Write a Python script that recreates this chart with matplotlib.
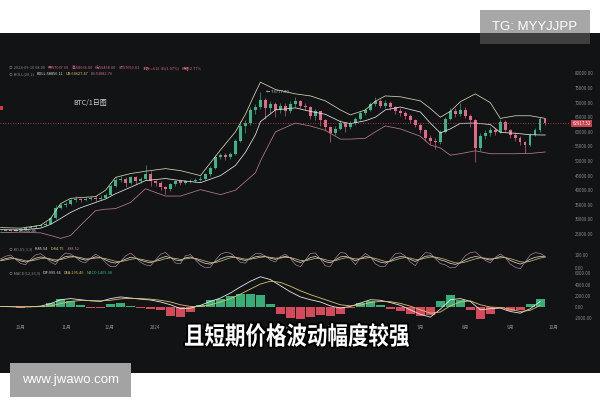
import matplotlib
matplotlib.use("Agg")
import matplotlib.pyplot as plt
import matplotlib.dates as mdates
from matplotlib.patches import Rectangle, PathPatch
from matplotlib.textpath import TextPath
from matplotlib.font_manager import FontProperties
from matplotlib.transforms import Affine2D
from matplotlib.ticker import FuncFormatter
import numpy as np
import pandas as pd

plt.rcParams['font.family'] = ['Noto Sans CJK SC', 'DejaVu Sans']

W, H = 600, 400

# ---- daily-ish candles, prices in thousand USD ----
dates = pd.date_range('2023-09-17', '2024-09-25', periods=110)
opens = [26.1, 26.2, 26.4, 26.05, 26.3, 26.8, 27.2, 27.5, 27.8, 28.0,
         28.5, 30.5, 34.0, 35.0, 35.2, 36.5, 37.0, 36.5, 37.0, 37.5,
         37.0, 37.5, 38.5, 41.5, 43.5, 44.0, 42.5, 44.5, 43.0, 44.0,
         45.5, 43.0, 42.5, 41.0, 40.5, 42.0, 43.0, 42.5, 43.0, 43.2,
         43.5, 44.0, 45.5, 47.5, 51.5, 52.0, 51.5, 52.5, 57.0, 62.0,
         63.0, 67.5, 68.5, 71.0, 68.0, 69.5, 67.5, 69.0, 67.0, 69.5,
         70.5, 69.0, 68.5, 65.5, 67.0, 64.0, 61.5, 59.5, 61.0, 63.0,
         61.5, 63.0, 64.5, 66.5, 67.5, 69.5, 70.5, 69.0, 70.0, 68.5,
         67.0, 66.5, 65.5, 64.0, 62.5, 60.5, 58.0, 57.0, 56.5, 60.0,
         64.5, 67.0, 66.0, 67.5, 65.5, 64.0, 54.5, 58.5, 59.5, 60.5,
         60.0, 63.5, 60.5, 59.0, 58.0, 56.5, 55.5, 59.0, 60.5, 64.5]
closes = [26.2, 26.4, 26.05, 26.3, 26.8, 27.2, 27.5, 27.8, 28.0, 28.5,
          30.5, 34.0, 35.0, 35.2, 36.5, 37.0, 36.5, 37.0, 37.5, 37.0,
          37.5, 38.5, 41.5, 43.5, 44.0, 42.5, 44.5, 43.0, 44.0, 45.5,
          43.0, 42.5, 41.0, 40.5, 42.0, 43.0, 42.5, 43.0, 43.2, 43.5,
          44.0, 45.5, 47.5, 51.5, 52.0, 51.5, 52.5, 57.0, 62.0, 63.0,
          67.5, 68.5, 71.0, 68.0, 69.5, 67.5, 69.0, 67.0, 69.5, 70.5,
          69.0, 68.5, 65.5, 67.0, 64.0, 61.5, 59.5, 61.0, 63.0, 61.5,
          63.0, 64.5, 66.5, 67.5, 69.5, 70.5, 69.0, 70.0, 68.5, 67.0,
          66.5, 65.5, 64.0, 62.5, 60.5, 58.0, 57.0, 56.5, 60.0, 64.5,
          67.0, 66.0, 67.5, 65.5, 64.0, 54.5, 58.5, 59.5, 60.5, 60.0,
          63.5, 60.5, 59.0, 58.0, 56.5, 55.5, 59.0, 60.5, 64.5, 62.92]
highs = [26.5, 26.7, 26.5, 26.6, 27.1, 27.6, 27.9, 28.2, 28.5, 29.0,
         31.0, 34.8, 35.6, 35.9, 37.0, 37.9, 37.4, 37.6, 38.0, 37.9,
         38.2, 39.0, 42.0, 44.5, 44.8, 44.4, 45.0, 44.8, 44.6, 48.5,
         46.5, 43.5, 43.0, 41.5, 42.6, 43.6, 43.5, 43.6, 43.9, 44.2,
         44.7, 46.0, 48.2, 52.0, 52.9, 52.6, 53.0, 57.6, 63.8, 64.0,
         68.5, 69.5, 73.777, 71.5, 70.5, 70.2, 70.0, 69.8, 70.5, 72.0,
         71.0, 70.0, 68.8, 67.8, 67.3, 64.5, 62.0, 62.0, 64.0, 63.5,
         63.8, 65.0, 67.2, 68.2, 70.2, 71.8, 71.2, 71.0, 70.5, 69.0,
         68.0, 67.2, 66.0, 64.5, 63.0, 61.0, 58.8, 57.8, 60.5, 65.2,
         68.0, 68.2, 70.0, 68.5, 66.0, 64.5, 59.5, 60.5, 61.5, 61.2,
         64.5, 64.0, 61.0, 59.8, 58.5, 57.0, 59.6, 61.2, 65.0, 64.8]
lows = [26.0, 26.1, 25.96046, 26.0, 26.1, 26.6, 27.0, 27.2, 27.5, 27.8,
        28.3, 30.2, 33.6, 34.3, 34.9, 36.0, 35.8, 36.2, 36.6, 36.3,
        36.7, 37.2, 38.3, 41.0, 42.8, 41.0, 42.0, 42.3, 42.5, 43.5,
        41.5, 41.5, 40.2, 38.6, 39.8, 41.5, 41.8, 42.0, 42.4, 42.8,
        43.0, 43.6, 45.0, 47.2, 50.6, 50.5, 50.8, 52.2, 56.5, 59.5,
        62.5, 66.0, 67.8, 64.5, 66.0, 65.0, 66.5, 65.5, 66.3, 68.5,
        68.0, 67.5, 64.5, 64.2, 62.0, 60.5, 56.5, 58.8, 60.5, 60.0,
        60.8, 62.5, 64.0, 65.8, 67.0, 69.0, 68.0, 68.2, 67.5, 66.0,
        65.5, 64.5, 63.0, 61.5, 59.5, 56.8, 55.8, 54.2, 56.0, 59.5,
        64.0, 65.0, 65.5, 64.8, 61.5, 49.5, 53.5, 57.5, 58.5, 58.8,
        59.5, 59.8, 58.0, 57.0, 55.5, 52.6, 55.0, 58.5, 60.0, 62.5]
last_price = 62.91752

# Bollinger band (20,2) read at sample candles
boll_idx = [0, 4, 8, 10, 12, 14, 16, 19, 21, 23, 26, 29, 33, 36, 40, 44, 47, 49, 51, 52,
            55, 59, 62, 65, 68, 70, 73, 75, 77, 80, 84, 86, 88, 90, 92, 95, 98, 100, 103, 106, 109]
boll_up = [27.2, 27.0, 28.0, 30.3, 35.4, 37.2, 37.5, 37.8, 40.0, 44.4,
           45.7, 46.5, 47.4, 46.7, 45.0, 53.8, 60.0, 66.0, 73.5, 77.0,
           74.5, 73.0, 72.3, 70.6, 67.5, 65.8, 67.5, 70.5, 72.3, 72.0,
           70.6, 68.0, 65.0, 67.0, 70.3, 73.0, 70.0, 64.6, 65.5, 65.5, 64.6]
boll_mid = [26.5, 26.4, 27.0, 28.3, 30.3, 32.4, 34.0, 35.8, 37.0, 38.8,
            41.0, 43.3, 44.0, 43.3, 42.6, 45.0, 48.5, 53.0, 59.0, 63.5,
            67.5, 68.2, 67.0, 66.0, 63.5, 62.8, 63.8, 65.0, 67.5, 68.5,
            66.8, 63.0, 59.6, 61.0, 62.9, 63.0, 62.5, 59.8, 59.5, 59.0, 58.9]
boll_lo = [25.5, 25.6, 25.4, 24.5, 23.5, 24.5, 28.0, 33.0, 33.5, 33.7,
           35.8, 40.5, 38.0, 38.0, 40.2, 38.5, 40.0, 43.0, 46.0, 50.0,
           60.0, 63.0, 62.0, 60.5, 57.5, 57.5, 57.8, 60.0, 62.0, 61.0,
           58.5, 55.5, 54.5, 52.0, 52.5, 53.5, 52.5, 52.5, 52.5, 52.6, 53.1]

# KDJ(9,3,3)
kdj_k = [60, 72, 80, 70, 55, 45, 58, 75, 85, 78,
         62, 50, 70, 88, 92, 85, 70, 60, 72, 86,
         80, 62, 45, 38, 50, 68, 82, 76, 60, 48,
         40, 55, 75, 88, 80, 62, 55, 78, 85, 70,
         50, 35, 30, 48, 70, 84, 90, 82, 65, 58,
         72, 86, 92, 88, 75, 66, 80, 90, 78, 55,
         42, 58, 80, 88, 72, 48, 40, 62, 85, 90,
         76, 55, 72, 88, 82, 60, 45, 38, 55, 78,
         88, 84, 66, 50, 70, 90, 94, 80, 62, 52,
         35, 28, 40, 62, 78, 88, 82, 70, 60, 75,
         88, 80, 58, 42, 30, 45, 68, 82, 88, 85.54]
kdj_d = [55, 62, 70, 72, 65, 55, 54, 62, 72, 76,
         70, 62, 64, 74, 84, 86, 80, 70, 70, 76,
         78, 72, 62, 52, 50, 56, 66, 72, 68, 60,
         52, 52, 60, 72, 78, 74, 66, 70, 76, 74,
         64, 52, 42, 42, 52, 66, 78, 82, 76, 68,
         68, 74, 82, 86, 82, 76, 76, 82, 80, 70,
         58, 56, 64, 74, 74, 64, 54, 56, 68, 78,
         78, 70, 70, 76, 80, 74, 62, 50, 50, 62,
         74, 80, 76, 66, 66, 76, 84, 84, 76, 66,
         52, 40, 38, 46, 58, 70, 78, 76, 70, 72,
         78, 80, 72, 60, 48, 44, 52, 64, 76, 84.75]
kdj_j = [70, 90, 100, 66, 35, 25, 66, 100, 110, 82,
         46, 26, 82, 115, 108, 83, 50, 40, 76, 106,
         84, 42, 11, 10, 50, 92, 114, 84, 44, 24,
         16, 61, 105, 120, 84, 38, 33, 94, 103, 62,
         22, 1, 6, 60, 106, 120, 114, 82, 43, 38,
         80, 110, 112, 92, 61, 46, 88, 106, 74, 25,
         10, 62, 112, 116, 68, 16, 12, 74, 119, 114,
         72, 25, 76, 112, 86, 32, 11, 14, 65, 110,
         116, 92, 46, 18, 78, 118, 114, 72, 34, 24,
         1, 4, 44, 94, 118, 124, 90, 58, 40, 81,
         108, 80, 30, 6, -6, 47, 100, 118, 112, 88.52]

# MACD(12,26,9), read every second candle
macd_dif = [100, 50, 0, 50, 150, 600, 1300, 1500, 1300, 1100,
            1000, 1500, 1800, 1600, 1400, 1250, 900, 400, -300, -200,
            300, 1000, 1600, 2500, 3600, 4600, 5400, 4900, 3800, 2700,
            1800, 1300, 900, 200, -200, 100, 700, 1300, 1200, 800,
            300, -500, -1300, -1800, -400, 1300, 1500, 1000, -500, -300,
            -200, -800, -1100, -300, 995.66]
macd_dea = [100, 80, 50, 40, 70, 200, 600, 1000, 1150, 1150,
            1100, 1200, 1450, 1550, 1500, 1400, 1200, 900, 400, 100,
            100, 400, 900, 1500, 2300, 3200, 4100, 4600, 4400, 3700,
            2900, 2200, 1600, 1000, 400, 200, 350, 800, 1000, 950,
            650, 150, -500, -1100, -900, 200, 900, 1100, 400, 0,
            -100, -400, -800, -600, 295.46]
macd_hist = [0, -60, -100, 20, 160, 800, 1400, 1000, 300, -100,
             -200, 600, 700, 100, -200, -300, -600, -1600, -1800, -900,
             400, 1200, 1400, 2000, 2300, 2400, 2200, 600, -1200, -2000,
             -2200, -1800, -1400, -1600, -1200, -200, 700, 1000, 400, -300,
             -700, -1300, -1600, -1400, 1000, 2200, 1200, -600, -2200, -1200,
             -200, -800, -600, 600, 1405.08]

price_ticks = [25, 30, 35, 40, 45, 50, 55, 60, 65, 70, 75, 80]
kdj_ticks = [0, 100]
macd_ticks = [-2000, 0, 2000, 4000, 6000]
subtitle = '且短期价格波动幅度较强'

UP, DN = '#3db488', '#e06a88'
GRAY = '#8a8a8a'
BG = '#121315'


def fx(px):
    return px / W


def fy(py):
    return 1 - py / H


def seq_text(fig, x, y, pieces, size):
    r = fig.canvas.get_renderer()
    for s, c in pieces:
        t = fig.text(fx(x), fy(y), s, color=c, fontsize=size, va='center', ha='left')
        x += t.get_window_extent(renderer=r).width + 2.5


fig = plt.figure(figsize=(6, 4), dpi=100)
fig.patch.set_facecolor('white')
fig.add_artist(Rectangle((0, fy(373)), 1, (373 - 33) / H, transform=fig.transFigure,
                         facecolor=BG, edgecolor='none', zorder=-5))

ax = fig.add_axes([0, fy(240), fx(570), 180 / H])
ax_k = fig.add_axes([0, fy(270), fx(570), 27 / H], sharex=ax)
ax_m = fig.add_axes([0, fy(321), fx(570), 51 / H], sharex=ax)

x = mdates.date2num(dates)
o = np.array(opens)
c = np.array(closes)
col = np.where(c >= o, UP, DN)

# candles
ax.vlines(x, lows, highs, colors=col, lw=0.45)
ax.bar(x, c - o, bottom=o, width=1.7, color=col, linewidth=0)

# bollinger
bx = x[boll_idx]
ax.plot(bx, boll_up, color='#d8d4b4', lw=0.55)
ax.plot(bx, boll_mid, color='#e4e4e4', lw=0.55)
ax.plot(bx, boll_lo, color='#b67a92', lw=0.55)

ax.axhline(last_price, color='#d9485a', lw=0.6, ls=(0, (1, 2)))
ax.text(1.004, last_price, f'{last_price * 1000:.2f}', transform=ax.get_yaxis_transform(),
        fontsize=3.2, color='white', va='center', ha='left',
        bbox=dict(boxstyle='square,pad=0.25', fc='#c8424f', ec='none'))

ih = int(np.argmax(highs))
il = int(np.argmin(lows))
ax.text(x[ih] + 4, highs[ih], f'← {highs[ih] * 1000:.2f}', fontsize=3, color='#cfcfcf', va='center')
ax.text(x[il] + 2, lows[il], f'← {lows[il] * 1000:.2f}', fontsize=3, color='#cfcfcf', va='center')

ax.set_ylim(22.95, 84.6)
ax.set_xlim(mdates.date2num(pd.Timestamp('2023-09-16 14:00')),
            mdates.date2num(pd.Timestamp('2024-10-12')))
ax.set_yticks(price_ticks)
ax.yaxis.set_major_formatter(FuncFormatter(lambda v, p: f'{v * 1000:.2f}'))

# KDJ
ax_k.plot(x, kdj_k, color='#e2e2e2', lw=0.5)
ax_k.plot(x, kdj_d, color='#d6c679', lw=0.5)
ax_k.plot(x, kdj_j, color='#b98aa2', lw=0.45)
ax_k.set_ylim(-15.4, 192)
ax_k.set_yticks(kdj_ticks)
ax_k.yaxis.set_major_formatter(FuncFormatter(lambda v, p: f'{v:.2f}'))

# MACD
mx = x[::2]
hist = np.array(macd_hist)
ax_m.bar(mx, hist, width=6.4, color=np.where(hist >= 0, '#38ad78', '#d44a5a'), linewidth=0)
ax_m.plot(mx, macd_dif, color='#e6e6e6', lw=0.6)
ax_m.plot(mx, macd_dea, color='#d8c46e', lw=0.6)
ax_m.set_ylim(-2500, 6606)
ax_m.set_yticks(macd_ticks)
ax_m.yaxis.set_major_formatter(FuncFormatter(lambda v, p: f'{v:.2f}'))
ax_m.xaxis.set_major_locator(mdates.MonthLocator())
ax_m.xaxis.set_major_formatter(FuncFormatter(
    lambda v, p: '2024' if mdates.num2date(v).month == 1 else f'{mdates.num2date(v).month}月'))

for a in (ax, ax_k, ax_m):
    a.set_facecolor('none')
    for s in a.spines.values():
        s.set_visible(False)
    a.yaxis.tick_right()
    a.tick_params(axis='y', length=0, pad=3.5, labelsize=3.2, labelcolor=GRAY)
    a.tick_params(axis='x', length=0)
for a in (ax, ax_k):
    a.tick_params(axis='x', labelbottom=False)
ax_m.tick_params(axis='x', labelsize=3.4, labelcolor=GRAY, pad=3)

# header texts
seq_text(fig, 9, 68, [('⊙ 2024-09-10 08:00', GRAY), ('开:57037.60', '#d46a84'), ('高:58036.00', '#d46a84'),
                      ('低:56458.00', '#d46a84'), ('收:57650.01', '#d46a84'),
                      ('涨跌:+612.41(1.07%)', '#d46a84'), ('振幅:2.77%', '#d46a84')], 2.8)
seq_text(fig, 9, 74, [('⊙ BOLL(20,2)', GRAY), ('BOLL:58856.11', '#e0e0e0'),
                      ('UB:64627.47', '#d8cc6a'), ('LB:53082.76', '#c0789a')], 2.8)
seq_text(fig, 9, 249, [('⊙ KDJ(9,3,3)', GRAY), ('K:85.54', '#e0e0e0'),
                       ('D:84.75', '#d8cc6a'), ('J:88.52', '#c0789a')], 2.8)
seq_text(fig, 9, 273, [('⊙ MACD(12,26,9)', GRAY), ('DIF:995.66', '#e0e0e0'),
                       ('DEA:295.46', '#d8cc6a'), ('MACD:1405.08', '#3cb47c')], 2.8)
fig.text(fx(73), fy(103), 'BTC/1日图', fontsize=5, color='#d4d4d4', va='center', ha='left')
fig.add_artist(Rectangle((0, fy(110)), fx(3), 4 / H, transform=fig.transFigure,
                         facecolor='#d03a48', edgecolor='none'))

# subtitle drawn as outlined glyphs
fp = FontProperties(family='Noto Sans CJK SC', weight='bold')
tp = TextPath((0, 0), subtitle, size=20, prop=fp)
ext = tp.get_extents()
tr = Affine2D().translate(-ext.x0, -ext.y0).scale(224 / ext.width, 24 / ext.height).translate(185, H - 347)
fig.add_artist(PathPatch(tp, transform=tr, facecolor='none', edgecolor='black', lw=2.6,
                         joinstyle='round', zorder=20))
fig.add_artist(PathPatch(tp, transform=tr, facecolor='white', edgecolor='none', zorder=21))

# watermarks
fig.add_artist(Rectangle((fx(480), fy(44)), fx(110), 34 / H, transform=fig.transFigure,
                         facecolor=(0.39, 0.39, 0.39), alpha=0.56, edgecolor='none', zorder=30))
fig.text(fx(535), fy(27), 'TG: MYYJJPP', fontsize=9.5, color='white', family='Liberation Sans',
         ha='center', va='center', zorder=31)
fig.add_artist(Rectangle((fx(10), fy(397)), fx(121), 34 / H, transform=fig.transFigure,
                         facecolor='#a3a3a3', edgecolor='none', zorder=30))
fig.text(fx(70.5), fy(380), 'www.jwawo.com', fontsize=9.5, color='white', family='Liberation Sans',
         ha='center', va='center', zorder=31)

fig.savefig('out.png', dpi=100)
